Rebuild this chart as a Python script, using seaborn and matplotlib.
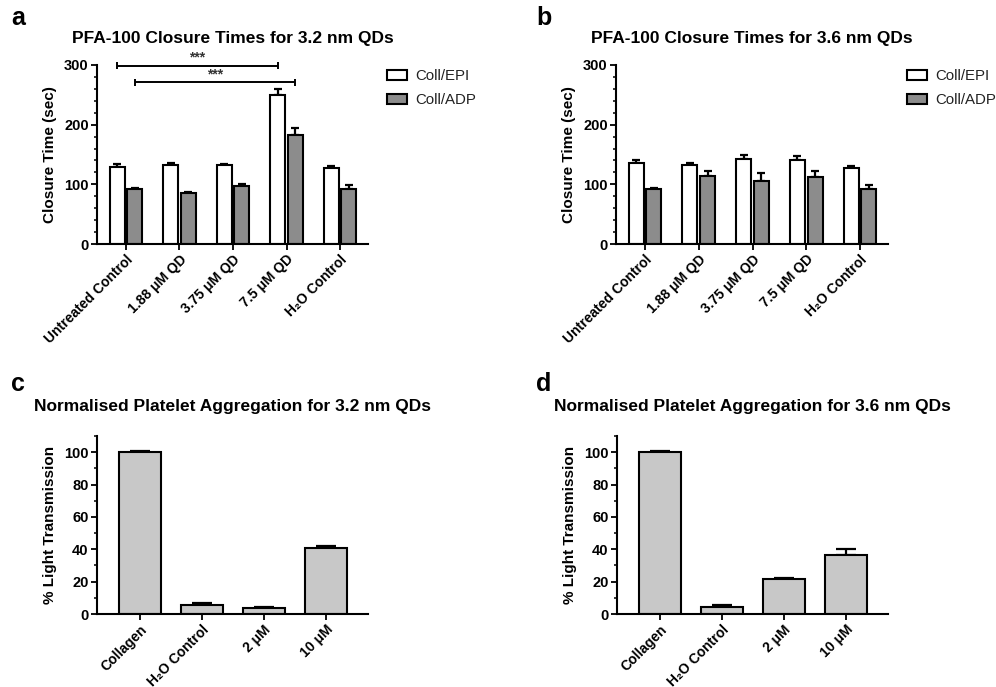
import numpy as np
import pandas as pd
import matplotlib
matplotlib.use("Agg")
import matplotlib.pyplot as plt
import seaborn as sns

# ---------------- data ----------------
pfa_categories = ["Untreated Control", "1.88 μM QD", "3.75 μM QD", "7.5 μM QD", "H₂O Control"]
groups = ["Coll/EPI", "Coll/ADP"]

a_epi = [129, 133, 132, 249, 127]
a_epi_err = [5, 3, 2, 11, 4]
a_adp = [91.5, 85.5, 98, 182, 93]
a_adp_err = [2.5, 1.5, 3, 12, 6]

b_epi = [136, 133, 143, 140, 127]
b_epi_err = [5, 3, 6, 7, 4]
b_adp = [91.5, 114.5, 106, 113, 93]
b_adp_err = [2, 8, 13, 10, 6.5]

agg_categories = ["Collagen", "H₂O Control", "2 μM", "10 μM"]
c_vals = [100, 5.5, 3.7, 41]
c_err = [0.7, 1.2, 0.7, 1.0]
d_vals = [100, 4.5, 21.6, 36.5]
d_err = [0.6, 1.0, 0.6, 3.5]

titles = ["PFA-100 Closure Times for 3.2 nm QDs",
          "PFA-100 Closure Times for 3.6 nm QDs",
          "Normalised Platelet Aggregation for 3.2 nm QDs",
          "Normalised Platelet Aggregation for 3.6 nm QDs"]

# ---------------- style ----------------
sns.set_theme(style="ticks")
plt.rcParams["font.family"] = ["Liberation Sans", "DejaVu Sans"]
plt.rcParams["axes.linewidth"] = 1.5
for k in ["text.color", "axes.labelcolor", "xtick.color", "ytick.color", "axes.edgecolor"]:
    plt.rcParams[k] = "black"

W, H = 996, 687
fig = plt.figure(figsize=(W / 100, H / 100), dpi=100)

def px_axes(l, r, t, b):
    return fig.add_axes([l / W, 1 - b / H, (r - l) / W, (b - t) / H])

ax_a = px_axes(97, 368, 65, 244)
ax_b = px_axes(616, 888, 65, 244)
ax_c = px_axes(97, 368, 436, 614)
ax_d = px_axes(617, 888, 436, 614)

EPI_COLOR = "white"
ADP_COLOR = "#8c8c8c"
AGG_COLOR = "#c8c8c8"


def style_axis(ax, ymax, major, minor):
    ax.set_ylim(0, ymax)
    ax.set_yticks(np.arange(0, ymax + 0.01, major))
    ax.set_yticks(np.arange(0, ymax + 0.01, minor), minor=True)
    for s in ["top", "right"]:
        ax.spines[s].set_visible(False)
    for s in ["left", "bottom"]:
        ax.spines[s].set_color("black")
        ax.spines[s].set_linewidth(1.5)
    ax.tick_params(axis="both", which="major", direction="out", length=4, width=1.3,
                   color="black", labelcolor="black", labelsize=10.5, pad=2)
    ax.tick_params(axis="y", which="minor", direction="out", length=2.5, width=1.1, color="black")
    ax.tick_params(axis="x", which="minor", bottom=False)
    for lab in ax.get_yticklabels():
        lab.set_fontweight("bold")
    ax.set_xlabel("")


def add_errbars(ax, container, errs, capsize):
    xs = [p.get_x() + p.get_width() / 2 for p in container]
    ys = [p.get_height() for p in container]
    ax.errorbar(xs, ys, yerr=[np.zeros(len(errs)), errs], fmt="none", ecolor="black",
                elinewidth=1.6, capsize=capsize, capthick=1.6, zorder=1)


def pfa_panel(ax, epi, epi_err, adp, adp_err, title):
    df = pd.DataFrame({
        "cat": pfa_categories * 2,
        "group": [groups[0]] * len(epi) + [groups[1]] * len(adp),
        "val": list(epi) + list(adp),
    })
    sns.barplot(data=df, x="cat", y="val", hue="group", order=pfa_categories, hue_order=groups,
                palette={groups[0]: EPI_COLOR, groups[1]: ADP_COLOR}, edgecolor="black",
                linewidth=1.5, width=0.66, gap=0.15, errorbar=None, ax=ax, zorder=2)
    add_errbars(ax, ax.containers[0], epi_err, 3)
    add_errbars(ax, ax.containers[1], adp_err, 3)
    ax.set_xlim(-0.54, 4.52)
    style_axis(ax, 300, 100, 20)
    ax.set_ylabel("Closure Time (sec)", fontsize=11, fontweight="bold", labelpad=5, color="black")
    ax.set_xticks(range(len(pfa_categories)))
    ax.set_xticklabels(pfa_categories, rotation=45, ha="right", rotation_mode="anchor",
                       fontsize=10, fontweight="bold", color="black")
    sns.move_legend(ax, loc="upper left", bbox_to_anchor=(1.07, 0.975), frameon=False,
                    title=None, fontsize=10.8, borderpad=0, borderaxespad=0,
                    handlelength=1.35, handleheight=0.7, handletextpad=0.55, labelspacing=0.65,
                    labelcolor="#222222")
    return ax


pfa_panel(ax_a, a_epi, a_epi_err, a_adp, a_adp_err, titles[0])
pfa_panel(ax_b, b_epi, b_epi_err, b_adp, b_adp_err, titles[1])

# significance brackets on panel a (drawn between the library's bar centres)
epi_bars = ax_a.containers[0]
adp_bars = ax_a.containers[1]
def bracket(ax, p1, p2, y, cap=6):
    x1 = p1.get_x() + p1.get_width() / 2
    x2 = p2.get_x() + p2.get_width() / 2
    kw = dict(color="black", lw=1.4, clip_on=False, solid_capstyle="butt")
    ax.plot([x1, x2], [y, y], **kw)
    ax.plot([x1, x1], [y - cap, y + cap], **kw)
    ax.plot([x2, x2], [y - cap, y + cap], **kw)
    ax.text((x1 + x2) / 2, y + 2, "***", ha="center", va="bottom", fontsize=10,
            fontweight="bold", color="#333333", clip_on=False)

bracket(ax_a, epi_bars[0], epi_bars[3], 299)
bracket(ax_a, adp_bars[0], adp_bars[3], 271)


def agg_panel(ax, vals, errs):
    sns.barplot(x=agg_categories, y=vals, order=agg_categories, color=AGG_COLOR,
                edgecolor="black", linewidth=1.5, width=0.67, errorbar=None, ax=ax,
                saturation=1, zorder=2)
    add_errbars(ax, ax.containers[0], errs, 7)
    ax.set_xlim(-0.69, 3.68)
    style_axis(ax, 110, 20, 10)
    ax.set_yticks(np.arange(0, 101, 20))
    for lab in ax.get_yticklabels():
        lab.set_fontweight("bold")
    ax.set_ylabel("% Light Transmission", fontsize=11, fontweight="bold", labelpad=5, color="black")
    ax.set_xticks(range(len(agg_categories)))
    ax.set_xticklabels(agg_categories, rotation=45, ha="right", rotation_mode="anchor",
                       fontsize=10, fontweight="bold", color="black")


agg_panel(ax_c, c_vals, c_err)
agg_panel(ax_d, d_vals, d_err)

for ax in (ax_a, ax_b):
    for p in ax.containers[0]:
        p.set_facecolor(EPI_COLOR)
    for p in ax.containers[1]:
        p.set_facecolor(ADP_COLOR)

# titles
for ax, t, ypx in [(ax_a, titles[0], 38), (ax_b, titles[1], 38), (ax_c, titles[2], 407), (ax_d, titles[3], 407)]:
    bb = ax.get_position()
    fig.text((bb.x0 + bb.x1) / 2, 1 - ypx / H, t, ha="center", va="center",
             fontsize=12.5, fontweight="bold", color="black")

# panel letters
for letter, xpx, ypx in [("a", 18, 18), ("b", 544, 18), ("c", 18, 384), ("d", 544, 384)]:
    fig.text(xpx / W, 1 - ypx / H, letter, ha="center", va="center",
             fontsize=18, fontweight="bold", color="black")

fig.savefig("out.png", dpi=100, facecolor="white")
